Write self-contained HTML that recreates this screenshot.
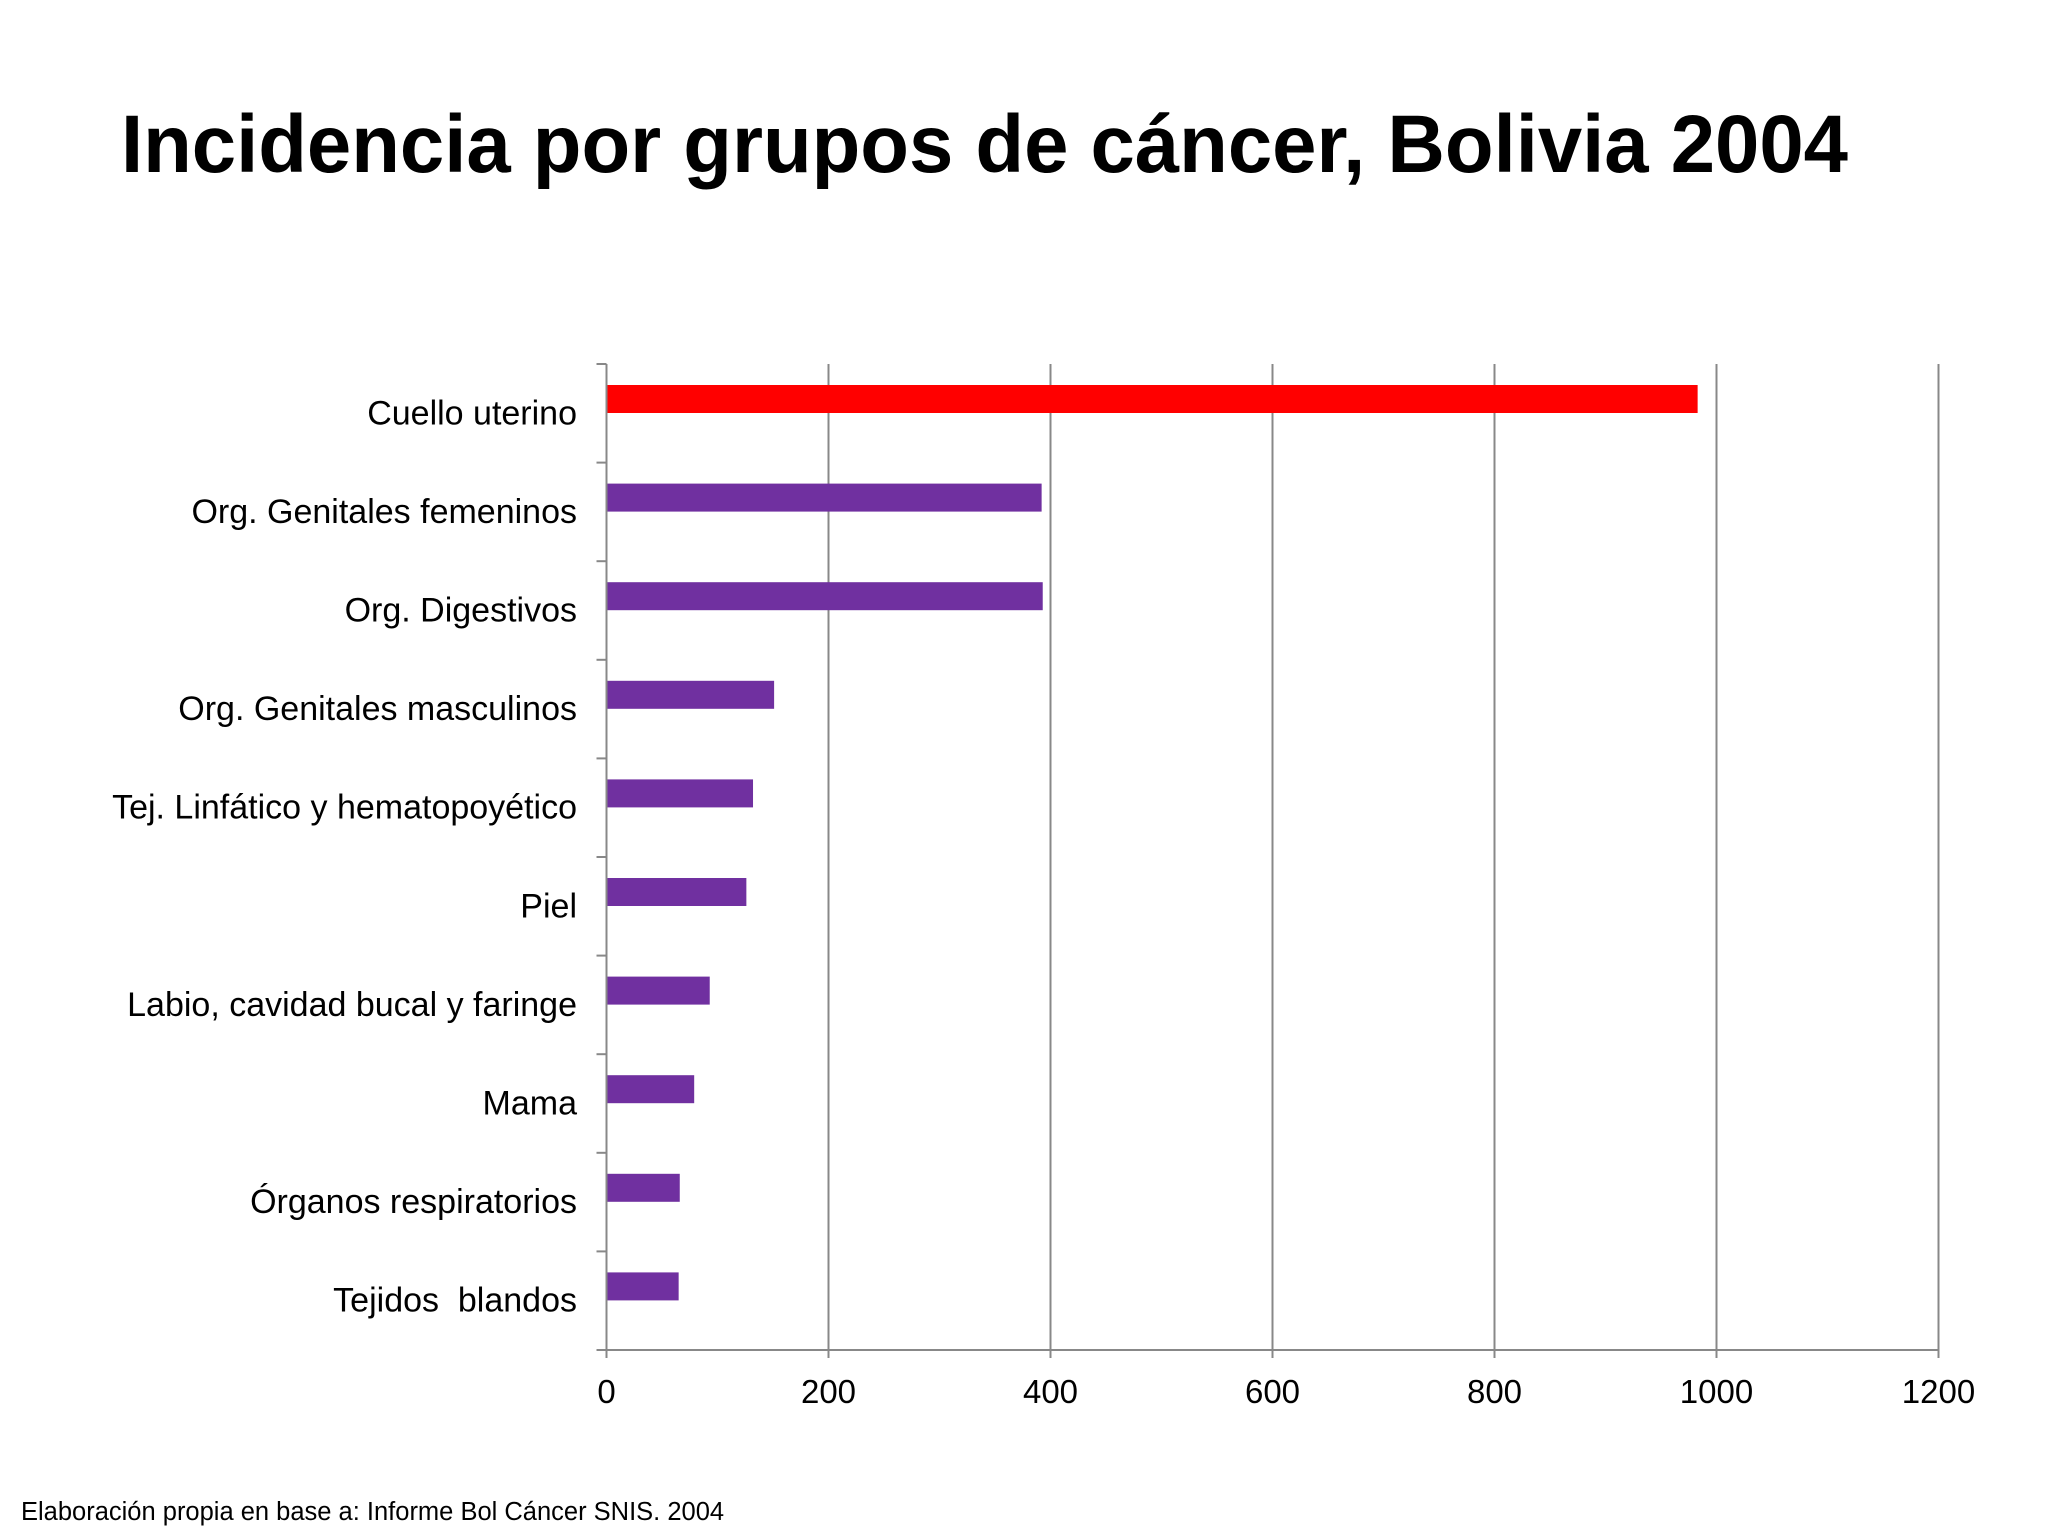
<!DOCTYPE html>
<html><head><meta charset="utf-8"><style>
html,body{margin:0;padding:0;background:#fff}
svg{display:block;font-family:"Liberation Sans",Arial,sans-serif}
</style></head><body>
<svg id="chart" width="2048" height="1536" viewBox="0 0 2048 1536">
<text x="121" y="172" font-size="82" font-weight="bold" fill="#000" textLength="1727" lengthAdjust="spacingAndGlyphs">Incidencia por grupos de cáncer, Bolivia 2004</text>
<g id="grid"></g>
<g id="bars"></g>
<g id="labels"></g>
<g id="ticks"></g>
<text x="21" y="1520" font-size="25.5" fill="#000">Elaboración propia en base a: Informe Bol Cáncer SNIS. 2004</text>
</svg>
<script>
const categories = ["Cuello uterino","Org. Genitales femeninos","Org. Digestivos","Org. Genitales masculinos","Tej. Linfático y hematopoyético","Piel","Labio, cavidad bucal y faringe","Mama","Órganos respiratorios","Tejidos\u00a0 blandos"];
const values = [983,392,393,151,132,126,93,79,66,65];
const xTicks = [0,200,400,600,800,1000,1200];
const NS="http://www.w3.org/2000/svg";
const x0=606.5, x1=1938.5, yTop=364, yBot=1350, xMax=1200;
const band=(yBot-yTop)/categories.length;
const xs=v=>x0+(x1-x0)*v/xMax;
function mk(tag,attrs,parent){const e=document.createElementNS(NS,tag);for(const k in attrs)e.setAttribute(k,attrs[k]);document.getElementById(parent).appendChild(e);return e;}
xTicks.forEach((t,i)=>{
  if(i>0){const g=mk('line',{x1:xs(t),x2:xs(t),y1:yTop,y2:yBot,stroke:'#888','stroke-width':2},'grid');
  
  }
  const tk=mk('line',{x1:xs(t),x2:xs(t),y1:yBot,y2:yBot+8,stroke:'#888','stroke-width':2},'ticks');
  
  
  const tl=mk('text',{x:xs(t),y:yBot+53,'font-size':33,'text-anchor':'middle',fill:'#000'},'ticks');
  tl.textContent=t;
  
  
});
const ax=mk('line',{x1:x0,x2:x0,y1:yTop,y2:yBot,stroke:'#888','stroke-width':2},'grid');


const xa=mk('line',{x1:x0,x2:x1,y1:yBot,y2:yBot,stroke:'#888','stroke-width':2},'grid');


for(let i=0;i<=categories.length;i++){
  const m=mk('line',{x1:x0-10,x2:x0,y1:yTop+i*band,y2:yTop+i*band,stroke:'#888','stroke-width':2},'grid');
  
  
}
categories.forEach((c,i)=>{
  const top=yTop+i*band;
  const b=mk('rect',{x:x0+1,y:top+21,width:xs(values[i])-x0-1,height:28,fill:i===0?'#ff0000':'#7030a0'},'bars');
  
  
  const l=mk('text',{x:577,y:top+band/2+11,'font-size':34,'text-anchor':'end',fill:'#000'},'labels');
  l.textContent=c;
  
  
});
</script>
</body></html>
